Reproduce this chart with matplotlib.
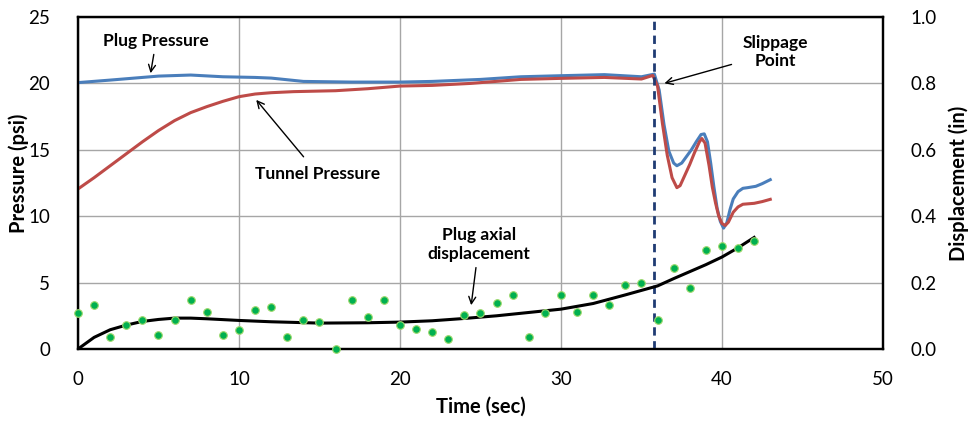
import matplotlib
matplotlib.use("Agg")
import matplotlib.pyplot as plt

plt.rcParams['font.family'] = ['Lato', 'DejaVu Sans']

# plug pressure (psi)
plug_t = [0, 2, 4, 5, 7, 9, 11, 12, 14, 17, 20, 22, 25, 27.5, 30, 32.7, 35, 35.8,
          36.1, 36.4, 36.7, 37.0, 37.2, 37.5, 37.8, 38.1, 38.4, 38.7, 38.9, 39.1,
          39.3, 39.5, 39.7, 39.9, 40.1, 40.3, 40.5, 40.7, 41.0, 41.3, 41.6, 42.1,
          42.5, 43.0]
plug_p = [20.06, 20.25, 20.45, 20.55, 20.63, 20.5, 20.45, 20.4, 20.15, 20.1, 20.1, 20.15,
          20.3, 20.5, 20.58, 20.66, 20.5, 20.7,
          19.5, 16.9, 14.9, 14.0, 13.8, 14.0, 14.5, 15.0, 15.6, 16.15, 16.2, 15.6,
          14.0, 12.2, 10.6, 9.6, 9.1, 9.5, 10.5, 11.3, 11.85, 12.1, 12.15, 12.25,
          12.45, 12.75]

# tunnel pressure (psi)
tun_t = [0, 1, 2, 3, 4, 5, 6, 7, 8, 9, 10, 11, 12, 13.4, 16, 18, 20, 22, 24.4, 27.5,
         30, 32.7, 35, 35.7, 36.0, 36.3, 36.6, 36.9, 37.2, 37.4, 37.7, 38.0, 38.3,
         38.6, 38.75, 38.95, 39.2, 39.4, 39.6, 39.8, 40.0, 40.2, 40.4, 40.7, 41.0,
         41.3, 42.0, 42.5, 43.0]
tun_p = [12.05, 12.9, 13.8, 14.7, 15.6, 16.45, 17.2, 17.8, 18.25, 18.65, 19.0, 19.2, 19.3,
         19.38, 19.45, 19.6, 19.8, 19.85, 20.0, 20.3, 20.38, 20.45, 20.33, 20.6,
         19.8, 17.0, 14.6, 12.9, 12.15, 12.3, 13.1, 13.9, 14.8,
         15.6, 15.85, 15.5, 13.8, 12.2, 11.0, 10.0, 9.45, 9.3, 9.55, 10.3, 10.7,
         10.9, 10.97, 11.1, 11.27]

# plug axial displacement (in), measured points
disp_t = list(range(43))
disp = [0.108, 0.133, 0.036, 0.072, 0.087, 0.042, 0.087, 0.148, 0.111, 0.042,
        0.057, 0.117, 0.127, 0.036, 0.087, 0.081, 0.0, 0.148, 0.096, 0.148,
        0.072, 0.060, 0.051, 0.030, 0.102, 0.108, 0.139, 0.163, 0.036, 0.108,
        0.163, 0.111, 0.163, 0.133, 0.193, 0.199, 0.087, 0.244, 0.184, 0.298,
        0.310, 0.304, 0.325]

# trend line through the displacement
trend_t = [0, 1, 2, 3, 4, 5, 6, 7, 8, 10, 12, 15, 18, 20, 22, 24, 26, 28, 30, 32,
           34, 36, 37, 38, 39, 40, 41, 42]
trend = [0.0, 0.035, 0.058, 0.072, 0.083, 0.089, 0.093, 0.093, 0.091, 0.086, 0.082,
         0.078, 0.079, 0.081, 0.085, 0.092, 0.100, 0.110, 0.120, 0.137, 0.163, 0.19,
         0.212, 0.233, 0.254, 0.277, 0.305, 0.336]

slip_t = 35.8

fig, ax = plt.subplots(figsize=(9.69, 4.22), dpi=100)
fig.subplots_adjust(left=0.0805, right=0.9112, bottom=0.173, top=0.9597)

ax.set_xlim(0, 50)
ax.set_ylim(0, 25)
ax.set_xticks(range(0, 51, 10))
ax.set_yticks(range(0, 26, 5))
ax.grid(True, color='#a6a6a6', lw=1)
ax.set_axisbelow(True)
ax.tick_params(length=0, labelsize=13.5, pad=16)
ax.tick_params(axis='y', pad=20)

ax.plot(plug_t, plug_p, color='#4a7ebb', lw=2.2, zorder=3, solid_joinstyle='round')
ax.plot(tun_t, tun_p, color='#be4b48', lw=2.2, zorder=3, solid_joinstyle='round')
ax.axvline(slip_t, color='#1f3b73', lw=2, ls=(0, (3, 2)), zorder=4)

ax.set_xlabel('Time (sec)', fontsize=14.5, fontweight='bold', labelpad=6)
ax.set_ylabel('Pressure (psi)', fontsize=14.5, fontweight='bold')
ax.yaxis.set_label_coords(-0.0606, 0.53)

ax2 = ax.twinx()
ax2.set_ylim(0, 1.0)
ax2.set_yticks([0, 0.2, 0.4, 0.6, 0.8, 1.0])
ax2.set_yticklabels(['0.0', '0.2', '0.4', '0.6', '0.8', '1.0'])
ax2.tick_params(length=0, labelsize=13.5, pad=20)
ax2.scatter(disp_t, disp, s=30, color='#00b050', edgecolors='#9bd86a', linewidths=0.8,
            zorder=5, clip_on=False)
ax2.plot(trend_t, trend, color='black', lw=2.2, zorder=4)
ax2.set_ylabel('Displacement (in)', fontsize=14.5, fontweight='bold')
ax2.yaxis.set_label_coords(1.081, 0.5)

for a in (ax, ax2):
    for s in a.spines.values():
        s.set_color('black')
        s.set_linewidth(1.6)

# annotations
bold = dict(fontsize=12.5, fontweight='bold', ha='center', va='center')
ax.annotate('Plug Pressure', xy=(4.48, 20.56), xytext=(4.85, 23.2),
            arrowprops=dict(arrowstyle='->', color='black', lw=1), **bold)
ax.annotate('Tunnel Pressure', xy=(10.96, 18.92), xytext=(14.9, 13.18),
            arrowprops=dict(arrowstyle='->', color='black', lw=1, shrinkA=6), **bold)
ax.annotate('Slippage\nPoint', xy=(36.26, 19.95), xytext=(43.3, 22.35),
            arrowprops=dict(arrowstyle='->', color='black', lw=1, shrinkA=6), **bold)
ax.annotate('Plug axial\ndisplacement', xy=(24.4, 3.09), xytext=(24.9, 7.85),
            arrowprops=dict(arrowstyle='->', color='black', lw=1, shrinkA=2), **bold)

fig.savefig('out.png', dpi=100)
